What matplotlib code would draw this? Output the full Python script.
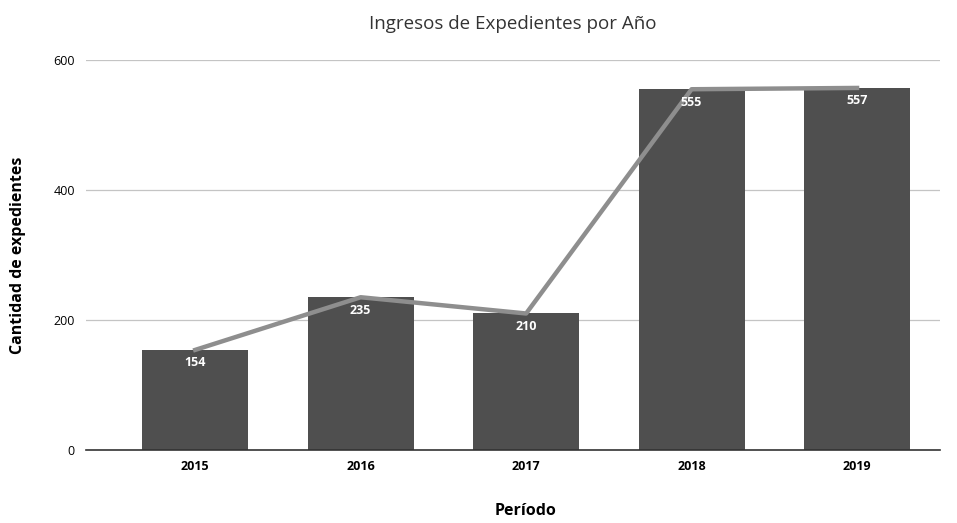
import matplotlib.pyplot as plt
import numpy as np

years = ['2015', '2016', '2017', '2018', '2019']
ingresos = [154, 235, 210, 555, 557]
yticks = [0, 200, 400, 600]

plt.rcParams['font.family'] = ['Open Sans', 'DejaVu Sans']

fig = plt.figure(figsize=(9.57, 5.23), dpi=100)
ax = fig.add_axes([0.0899, 0.1396, 0.8921, 0.7457])

x = np.arange(len(years))
ax.bar(x, ingresos, width=0.64, color='#4f4f4f', zorder=2)
ax.plot(x, ingresos, color='#8e8e8e', linewidth=3.2, zorder=3)

for xi, v in zip(x, ingresos):
    ax.text(xi, v - 10, str(v), ha='center', va='top', color='white',
            fontsize=9, fontweight='bold', zorder=4)

ax.set_xlim(-0.66, 4.5)
ax.set_ylim(0, 600)
ax.set_xticks(x)
ax.set_xticklabels(years, fontsize=9, fontweight='bold')
ax.set_yticks(yticks)
ax.set_yticklabels([str(t) for t in yticks], fontsize=9)
ax.tick_params(length=0, pad=7)
ax.tick_params(axis='y', pad=8)

ax.grid(axis='y', color='#c4c4c4', linewidth=0.9, zorder=0)
for s in ['top', 'right', 'left']:
    ax.spines[s].set_visible(False)
ax.spines['bottom'].set_color('#333333')
ax.spines['bottom'].set_linewidth(1.2)

ax.set_title('Ingresos de Expedientes por Año', fontsize=13.5, color='#333333', pad=22)
fig.text(18 / 957, 0.5124, 'Cantidad de expedientes', rotation=90, ha='center', va='center',
         fontsize=11.5, fontweight='bold')
fig.text(0.549, 0.022, 'Período', ha='center', va='center', fontsize=11.5, fontweight='bold')

fig.savefig('out.png', dpi=100)
